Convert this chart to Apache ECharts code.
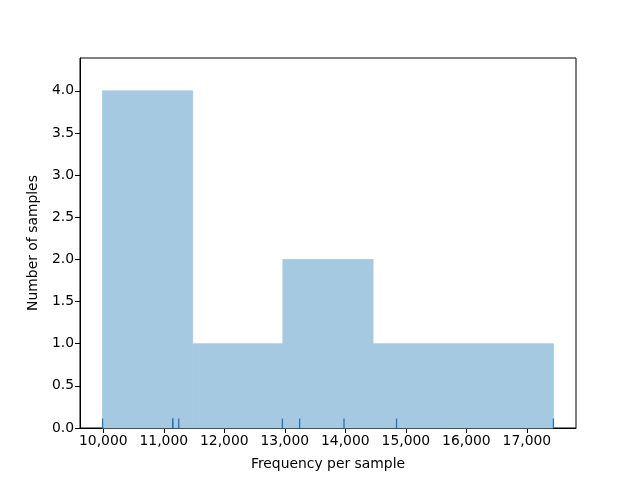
<!DOCTYPE html>
<html>
<head>
<meta charset="utf-8">
<script src="https://cdn.jsdelivr.net/npm/echarts@6/dist/echarts.min.js"></script>
<style>html,body{margin:0;padding:0;background:#fff}#c{width:640px;height:480px}</style>
</head>
<body>
<div id="c"></div>
<script>
// Data
var samples = [9988, 11147, 11147, 11247, 12960, 13245, 13978, 14846, 17439];
var binEdges = [9988, 11478, 12968, 14458, 15949, 17439];
var binCounts = [4, 1, 2, 1, 1];
var xTicks = [10000, 11000, 12000, 13000, 14000, 15000, 16000, 17000];
var yTicks = [0, 0.5, 1, 1.5, 2, 2.5, 3, 3.5, 4];

var bins = binCounts.map(function (c, i) { return [binEdges[i], binEdges[i + 1], c]; });
var rug = samples.map(function (v) { return [v]; });

var chart = echarts.init(document.getElementById('c'), null, { renderer: 'canvas' });
var font = 'DejaVu Sans';
chart.setOption({
  animation: false,
  grid: { left: 80, right: 64, top: 58, bottom: 52, show: true, borderColor: '#000', borderWidth: 1, backgroundColor: 'transparent' },
  xAxis: {
    type: 'value', min: 9615, max: 17812,
    name: 'Frequency per sample', nameLocation: 'middle', nameGap: 29,
    nameTextStyle: { fontFamily: font, fontSize: 13.9, color: '#000' },
    splitLine: { show: false },
    axisLine: { show: true, onZero: false, lineStyle: { color: '#000', width: 1 } },
    axisTick: { show: true, length: 5, lineStyle: { color: '#000' }, customValues: xTicks },
    axisLabel: { customValues: xTicks, fontFamily: font, fontSize: 13.9, color: '#000', margin: 6,
      formatter: function (v) { return v.toLocaleString('en-US'); } }
  },
  yAxis: {
    type: 'value', min: 0, max: 4.39,
    name: 'Number of samples', nameLocation: 'middle', nameGap: 40,
    nameTextStyle: { fontFamily: font, fontSize: 13.9, color: '#000' },
    splitLine: { show: false },
    axisLine: { show: true, lineStyle: { color: '#000', width: 1 } },
    axisTick: { show: true, length: 5, lineStyle: { color: '#000' }, customValues: yTicks },
    axisLabel: { customValues: yTicks, fontFamily: font, fontSize: 13.9, color: '#000', margin: 6,
      formatter: function (v) { return v.toFixed(1); } }
  },
  series: [
    {
      type: 'custom',
      data: bins,
      encode: { x: [0, 1], y: 2 },
      renderItem: function (params, api) {
        var p0 = api.coord([api.value(0), api.value(2)]);
        var p1 = api.coord([api.value(1), 0]);
        return { type: 'rect', shape: { x: p0[0], y: p0[1], width: p1[0] - p0[0], height: p1[1] - p0[1] },
          style: { fill: '#a5c9e1', stroke: '#a5c9e1', lineWidth: 0.8 } };
      }
    },
    {
      type: 'custom',
      data: rug,
      encode: { x: 0 },
      renderItem: function (params, api) {
        var p = api.coord([api.value(0), 0]);
        return { type: 'line', shape: { x1: p[0], y1: p[1], x2: p[0], y2: p[1] - 9.5 },
          style: { stroke: '#1f77b4', lineWidth: 1.3 } };
      }
    }
  ]
});
</script>
</body>
</html>
